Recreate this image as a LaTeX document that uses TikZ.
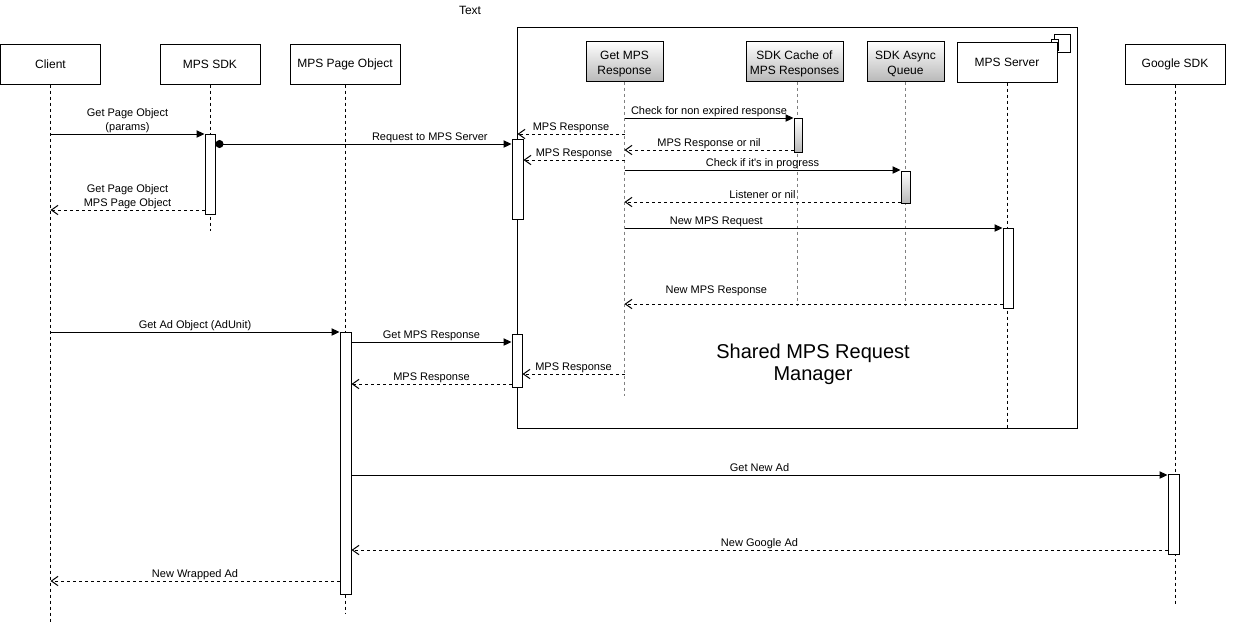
\documentclass[tikz,border=0pt]{standalone}
\usepackage{fontspec}
\setmainfont{Liberation Sans}
\usetikzlibrary{arrows.meta,calc}
\definecolor{shadegray}{RGB}{185,185,185}
\definecolor{lifegray}{RGB}{128,128,128}
\begin{document}
\begin{tikzpicture}[x=0.75pt,y=-0.75pt,line width=0.75pt,
  hdr/.style={draw,fill=white,minimum height=30pt,inner sep=0pt,align=center,font=\fontsize{9}{10.8}\selectfont},
  ghdr/.style={hdr,top color=white,bottom color=shadegray},
  hdrtext/.style={align=center,inner sep=0pt,font=\fontsize{9}{11.25}\selectfont,yshift=-2.3pt},
  act/.style={draw,fill=white,minimum width=7.5pt,inner sep=0pt},
  gact/.style={act,top color=white,bottom color=shadegray},
  life/.style={dash pattern=on 2.25pt off 2.25pt},
  glife/.style={life,draw=lifegray},
  call/.style={-{Triangle[length=6pt,width=5.5pt]}},
  reply/.style={dash pattern=on 2.25pt off 2.25pt,-{Straight Barb[length=5pt,width=7pt]}},
  lbl/.style={font=\fontsize{8.25}{10.5}\selectfont,inner sep=0pt,align=center},
  lblone/.style={lbl,anchor=base,yshift=3pt},
  lbltwo/.style={lbl,anchor=south,yshift=0.3pt},
]
\useasboundingbox (0,0) rectangle (1234,626);

% top text
\node[font=\fontsize{9}{10.8}\selectfont,inner sep=0pt,anchor=base] (toptext) at (470,14) {Text};

% frame
\draw (517.5,27) rectangle (1077,428);
\draw[fill=white] (1054,34) rectangle (1070,52);
\draw[fill=white] (1051,39) rectangle (1058,50);
\node[font=\fontsize{15}{16.75}\selectfont,align=center,inner sep=0pt] (frametitle) at (813,364) {Shared MPS Request\\Manager};

% headers
\node[hdr,minimum width=75pt] (client) at (50.5,64) {Client};
\node[hdr,minimum width=75pt] (sdk) at (210,64) {MPS SDK};
\node[hdr,minimum width=82.5pt] (page) at (345,64) {MPS Page Object};
\node[ghdr,minimum width=57.75pt,label={[hdrtext]center:Get MPS\\Response}] (gmr) at (624.5,61) {};
\node[ghdr,minimum width=72.75pt,label={[hdrtext]center:SDK Cache of\\MPS Responses}] (cache) at (794.5,61) {};
\node[ghdr,minimum width=57.75pt,label={[hdrtext]center:SDK Async\\Queue}] (async) at (905.5,61) {};
\node[hdr,minimum width=75pt] (server) at (1007,62) {MPS Server};
\node[hdr,minimum width=75pt] (google) at (1175,64) {Google SDK};

% lifelines
\coordinate (cachel) at ([xshift=1.9pt]cache.south);
\draw[life] (client.south) -- (client.south |- 0,622);
\draw[life] (sdk.south) -- (sdk.south |- 0,231);
\draw[life] (page.south) -- (page.south |- 0,614);
\draw[glife] (gmr.south) -- (gmr.south |- 0,396);
\draw[glife] (cachel) -- (cachel |- 0,306);
\draw[glife] (async.south) -- (async.south |- 0,306);
\draw[life] (server.south) -- (server.south |- 0,428);
\draw[life] (google.south) -- (google.south |- 0,604);

% activations
\node[act,minimum height=60pt] (a1) at (210,174) {};
\node[act,minimum width=8.25pt,minimum height=60pt] (a2) at (517.5,179) {};
\node[gact,minimum width=6pt,minimum height=25.5pt] (a3) at (798,135) {};
\node[gact,minimum width=6.75pt,minimum height=24pt] (a4) at (905.5,187) {};
\node[act,minimum height=60pt] (a5) at (1008,268) {};
\node[act,minimum width=8.25pt,minimum height=196.5pt] (a6) at (345.5,463) {};
\node[act,minimum height=39.75pt] (a7) at (517,360.5) {};
\node[act,minimum width=8.25pt,minimum height=60pt] (a8) at (1173.5,514) {};

% messages
\draw[call] (client.south |- 0,134) -- (a1.west |- 0,134)
  node[lbltwo,midway] {Get Page Object\\(params)};
\draw[{Circle[length=6pt]}-{Triangle[length=6pt,width=5.5pt]}] (a1.east |- 0,144) -- (a2.west |- 0,144)
  node[lblone,pos=0.724] {Request to MPS Server};
\draw[reply] (gmr.south |- 0,134) -- (a2.north |- 0,134)
  node[lblone,midway] {MPS Response};
\draw[reply] (gmr.south |- 0,160) -- (a2.east |- 0,160)
  node[lblone,midway] {MPS Response};
\draw[reply] (a1.west |- 0,210) -- (client.south |- 0,210)
  node[lbltwo,midway] {Get Page Object\\MPS Page Object};
\draw[call] (gmr.south |- 0,118) -- (a3.west |- 0,118)
  node[lblone,midway] {Check for non expired response};
\draw[reply] (a3.west |- 0,150) -- (gmr.south |- 0,150)
  node[lblone,midway] {MPS Response or nil};
\draw[call] (gmr.south |- 0,170) -- (a4.west |- 0,170)
  node[lblone,midway] {Check if it\textquotesingle s in progress};
\draw[reply] (a4.west |- 0,202) -- (gmr.south |- 0,202)
  node[lblone,midway] {Listener or nil};
\draw[call] (gmr.south |- 0,228) -- (a5.west |- 0,228)
  node[lblone,pos=0.243] {New MPS Request};
\draw[reply] (a5.west |- 0,304) -- (gmr.south |- 0,304)
  node[lblone,pos=0.757,yshift=5.25pt] {New MPS Response};
\draw[call] (client.south |- 0,332) -- (a6.west |- 0,332)
  node[lblone,midway] {Get Ad Object (AdUnit)};
\draw[call] (a6.east |- 0,342) -- (a7.west |- 0,342)
  node[lblone,midway] {Get MPS Response};
\draw[reply] (gmr.south |- 0,374) -- (a7.east |- 0,374)
  node[lblone,midway] {MPS Response};
\draw[reply] (a7.west |- 0,384) -- (a6.east |- 0,384)
  node[lblone,midway] {MPS Response};
\draw[call] (a6.east |- 0,475) -- (a8.west |- 0,475)
  node[lblone,midway] {Get New Ad};
\draw[reply] (a8.west |- 0,550) -- (a6.east |- 0,550)
  node[lblone,midway] {New Google Ad};
\draw[reply] (a6.west |- 0,581) -- (client.south |- 0,581)
  node[lblone,midway] {New Wrapped Ad};
\end{tikzpicture}
\end{document}
